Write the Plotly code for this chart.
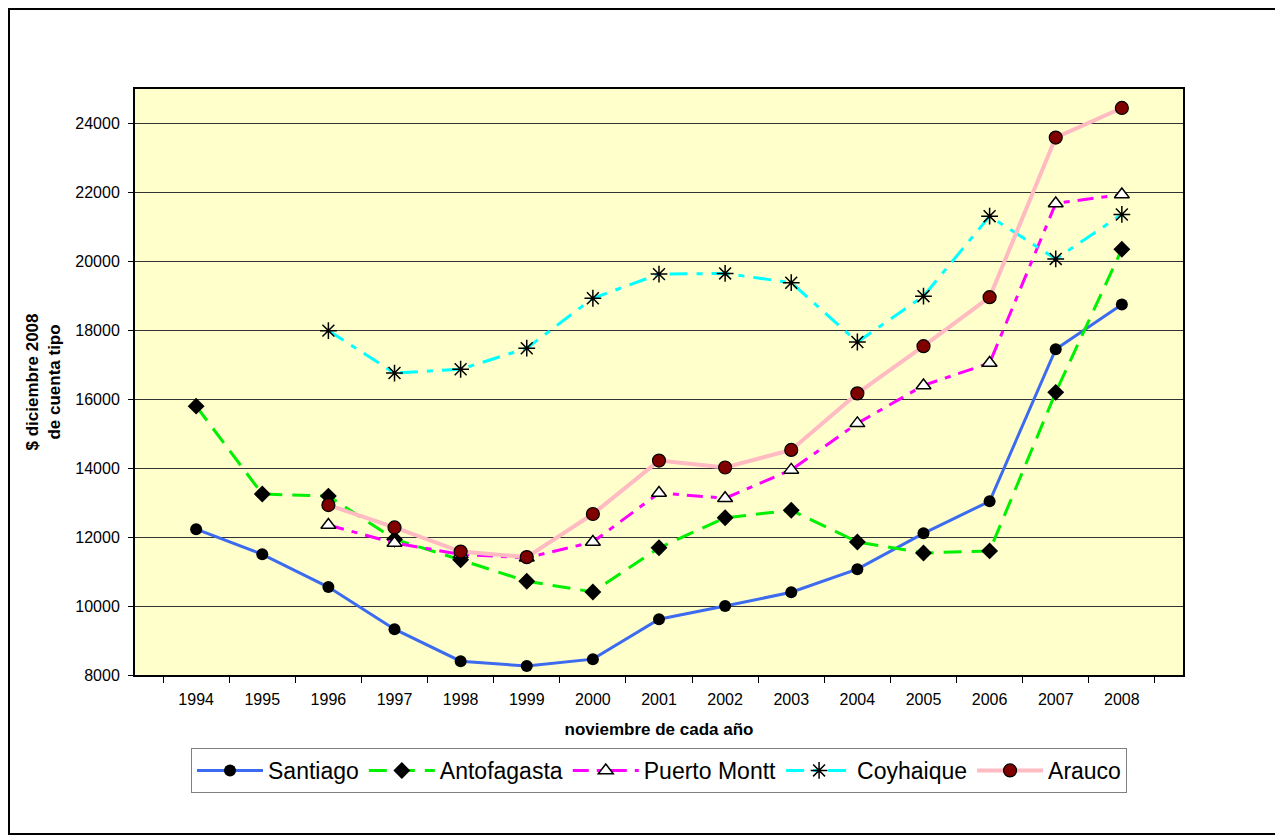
import plotly.graph_objects as go

years = [str(y) for y in range(1994, 2009)]

santiago = [12230, 11500, 10550, 9330, 8400, 8260, 8460, 9620, 10000, 10400, 11070, 12110, 13040, 17450, 18750]
antofagasta = [15800, 13250, 13190, 11940, 11340, 10720, 10410, 11690, 12560, 12780, 11860, 11540, 11600, 16200, 20350]
puerto_montt = [None, None, 12350, 11830, 11500, 11400, 11860, 13280, 13130, 13950, 15300, 16400, 17050, 21680, 21940]
coyhaique = [None, None, 17990, 16760, 16870, 17480, 18930, 19630, 19650, 19380, 17660, 18990, 21310, 20070, 21360]
arauco = [None, None, 12930, 12280, 11580, 11420, 12670, 14220, 14020, 14530, 16170, 17540, 18960, 23590, 24450]

fig = go.Figure()

fig.add_trace(go.Scatter(
    x=years, y=santiago, name="Santiago", mode="lines+markers",
    line=dict(color="#3D6BEF", width=3),
    marker=dict(symbol="circle", size=12, color="black"),
))
fig.add_trace(go.Scatter(
    x=years, y=antofagasta, name="Antofagasta", mode="lines+markers",
    line=dict(color="#00F000", width=3, dash="18px,10px"),
    marker=dict(symbol="diamond", size=13, color="black"),
))
fig.add_trace(go.Scatter(
    x=years, y=puerto_montt, name="Puerto Montt", mode="lines+markers",
    line=dict(color="#FF00FF", width=3, dash="16px,8px,6px,8px"),
    marker=dict(symbol="triangle-up", size=13, color="white",
                line=dict(color="black", width=1.5)),
))
fig.add_trace(go.Scatter(
    x=years, y=coyhaique, name="Coyhaique", mode="lines+markers",
    line=dict(color="#00FFFF", width=3, dash="18px,9px,6px,9px"),
    marker=dict(symbol="asterisk-open", size=14, color="black",
                line=dict(color="black", width=1.5)),
))
fig.add_trace(go.Scatter(
    x=years, y=arauco, name="Arauco", mode="lines+markers",
    line=dict(color="#FFBAC2", width=4),
    marker=dict(symbol="circle", size=13, color="#800000",
                line=dict(color="black", width=1.2)),
))

# page has an 8px body margin: figure origin sits at page (8, 8)
OFF = 8
W, H = 1283 - OFF, 836 - OFF
L, R, T, B = 135 - OFF, 1283 - 1183, 89 - OFF, 836 - 675
pw, ph = W - L - R, H - T - B

def px(x):
    return (x - OFF - L) / pw

def py(y):
    return (H - B - (y - OFF)) / ph

fig.add_shape(type="rect", xref="paper", yref="paper",
              x0=px(9), x1=px(1281), y0=py(834), y1=py(9),
              line=dict(color="black", width=2), layer="below")

fig.update_layout(
    width=W, height=H,
    margin=dict(l=L, r=R, t=T, b=B),
    paper_bgcolor="white",
    plot_bgcolor="#FFFFCC",
    font=dict(family="Liberation Sans, Arial, sans-serif", color="black", size=16),
    showlegend=True,
    legend=dict(
        orientation="h", x=0.5, xanchor="center", y=py(748), yanchor="top",
        font=dict(size=23), bordercolor="#808080", borderwidth=1,
        bgcolor="white", itemwidth=66, tracegroupgap=0,
    ),
    xaxis=dict(
        type="category", tickson="boundaries", ticks="outside", ticklen=6,
        tickcolor="black", showline=True, linecolor="black", linewidth=2,
        mirror=True, showgrid=False, tickfont=dict(size=16), ticklabelstandoff=9,
        title=dict(text="<b>noviembre de cada año</b>", font=dict(size=17), standoff=16),
    ),
    yaxis=dict(
        range=[8000, 25000], dtick=2000, tick0=8000, ticks="outside", ticklen=5,
        tickcolor="black", showline=True, linecolor="black", linewidth=2,
        mirror=True, showgrid=True, gridcolor="#333333", gridwidth=1,
        zeroline=False, tickfont=dict(size=16), tickformat="d", ticklabelstandoff=5,
        title=dict(text="<b>$ diciembre 2008<br>de cuenta tipo</b>", font=dict(size=17), standoff=10),
    ),
)

fig.write_html("out.html")
